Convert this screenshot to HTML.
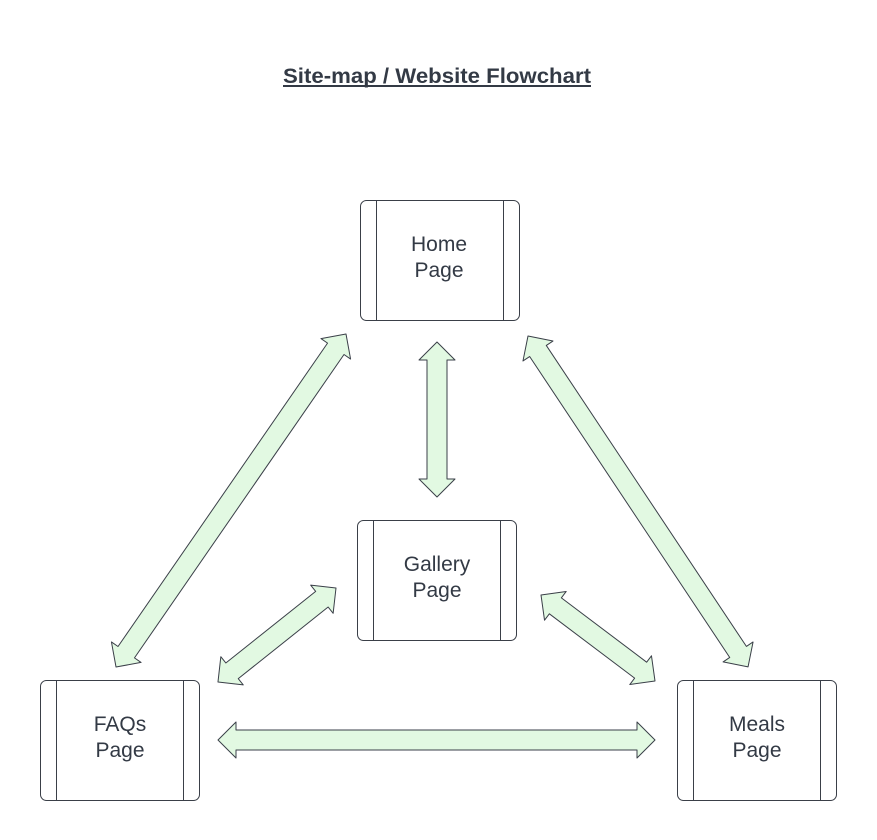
<!DOCTYPE html>
<html><head><meta charset="utf-8"><style>
html,body{margin:0;padding:0;background:#fff;}
svg{display:block;}
text{font-family:"Liberation Sans",Arial,sans-serif;fill:#333a45;}
</style></head><body>
<svg width="877" height="840" viewBox="0 0 877 840" xmlns="http://www.w3.org/2000/svg">
<defs>
<g id="b">
<rect x="0.5" y="0.5" width="159" height="120" rx="6" fill="#fff" stroke="#3a3f48" stroke-width="1"/>
<line x1="16.5" y1="0.5" x2="16.5" y2="120.5" stroke="#3a3f48"/>
<line x1="143.5" y1="0.5" x2="143.5" y2="120.5" stroke="#3a3f48"/>
</g>
</defs>
<text x="283" y="83" font-size="21" font-weight="bold" textLength="308" lengthAdjust="spacingAndGlyphs">Site-map / Website Flowchart</text>
<line x1="283" y1="86" x2="591" y2="86" stroke="#333a45" stroke-width="2"/>

<g fill="#e2f9e2" stroke="#3a3f48" stroke-width="1" stroke-linejoin="round">
<polygon transform="translate(437,342) rotate(90)" points="0,0 18,-18 18,-10 137,-10 137,-18 155,0 137,18 137,10 18,10 18,18"/>
<polygon transform="translate(346,334) rotate(124.63)" points="0,0 18,-18 18,-10 386.7,-10 386.7,-18 404.7,0 386.7,18 386.7,10 18,10 18,18"/>
<polygon transform="translate(528,336) rotate(56.38)" points="0,0 18,-18 18,-10 379.4,-10 379.4,-18 397.4,0 379.4,18 379.4,10 18,10 18,18"/>
<polygon transform="translate(336,588) rotate(141.46)" points="0,0 18,-18 18,-10 132.9,-10 132.9,-18 150.9,0 132.9,18 132.9,10 18,10 18,18"/>
<polygon transform="translate(541,595) rotate(37.03)" points="0,0 18,-18 18,-10 124.8,-10 124.8,-18 142.8,0 124.8,18 124.8,10 18,10 18,18"/>
<polygon transform="translate(218,740)" points="0,0 18,-18 18,-10 419,-10 419,-18 437,0 419,18 419,10 18,10 18,18"/>
</g>

<use href="#b" x="360" y="200"/>
<use href="#b" x="357" y="520"/>
<use href="#b" x="40" y="680"/>
<use href="#b" x="677" y="680"/>

<g font-size="21" text-anchor="middle">
<text x="439" y="251">Home</text><text x="439" y="277">Page</text>
<text x="437" y="571">Gallery</text><text x="437" y="597">Page</text>
<text x="120" y="731">FAQs</text><text x="120" y="757">Page</text>
<text x="757" y="731">Meals</text><text x="757" y="757">Page</text>
</g>
</svg>
</body></html>
